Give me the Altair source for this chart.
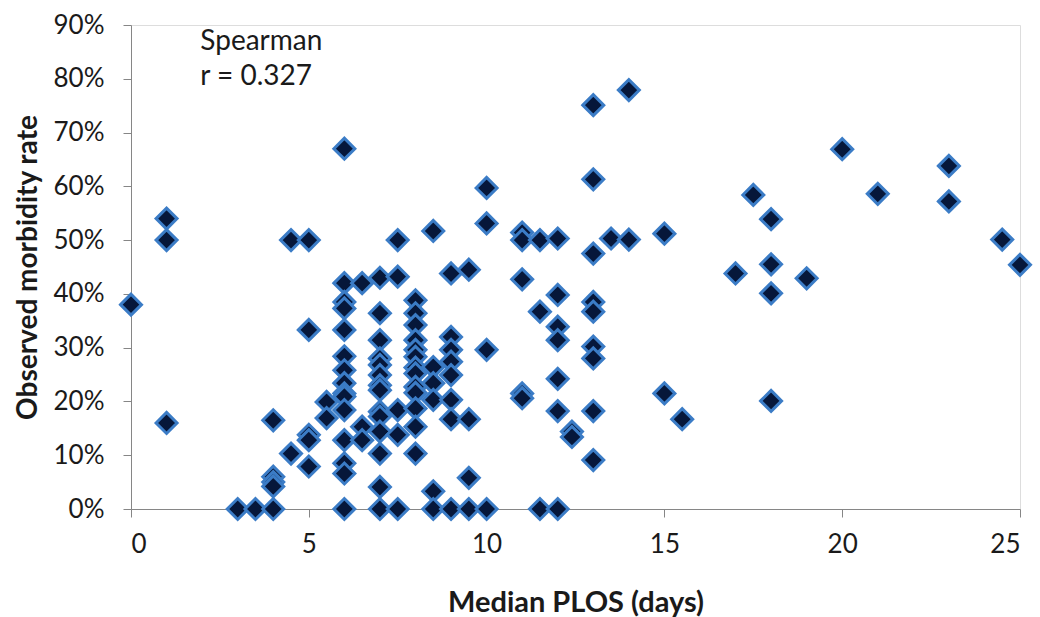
import altair as alt
import pandas as pd

# Median PLOS (days) and observed morbidity rate (fraction), grouped by day value
days = (
    [0] +
    [1, 1, 1] +
    [3] + [3.5] +
    [4, 4, 4, 4, 4] +
    [4.5, 4.5] +
    [5, 5, 5, 5, 5] +
    [5.5, 5.5] +
    [6] * 15 +
    [6.5] * 3 +
    [7] * 14 +
    [7.5] * 5 +
    [8] * 13 +
    [8.5] * 6 +
    [9] * 8 +
    [9.5] * 4 +
    [10] * 4 +
    [11] * 5 +
    [11.5] * 3 +
    [12] * 7 +
    [12.4] * 2 +
    [13] * 9 +
    [13.5] +
    [14, 14] +
    [15, 15] +
    [15.5] +
    [17] +
    [17.5] +
    [18] * 4 +
    [19] + [20] + [21] +
    [23, 23] +
    [24.5] + [25]
)

rates = (
    [0.38] +
    [0.54, 0.50, 0.16] +
    [0.0] + [0.0] +
    [0.165, 0.06, 0.05, 0.042, 0.0] +
    [0.50, 0.103] +
    [0.50, 0.333, 0.138, 0.128, 0.079] +
    [0.199, 0.169] +
    [0.67, 0.42, 0.385, 0.373, 0.333, 0.284, 0.258, 0.234, 0.215, 0.209, 0.184, 0.128, 0.085, 0.066, 0.0] +
    [0.42, 0.153, 0.128] +
    [0.43, 0.364, 0.314, 0.28, 0.268, 0.249, 0.23, 0.221, 0.181, 0.172, 0.144, 0.103, 0.041, 0.0] +
    [0.50, 0.432, 0.184, 0.138, 0.0] +
    [0.388, 0.364, 0.342, 0.314, 0.296, 0.283, 0.263, 0.252, 0.227, 0.216, 0.187, 0.153, 0.103] +
    [0.517, 0.264, 0.234, 0.203, 0.033, 0.0] +
    [0.438, 0.32, 0.296, 0.274, 0.249, 0.203, 0.167, 0.0] +
    [0.445, 0.167, 0.058, 0.0] +
    [0.597, 0.531, 0.296, 0.0] +
    [0.514, 0.50, 0.427, 0.215, 0.206] +
    [0.50, 0.367, 0.0] +
    [0.503, 0.398, 0.339, 0.314, 0.242, 0.182, 0.0] +
    [0.144, 0.134] +
    [0.751, 0.613, 0.475, 0.385, 0.367, 0.302, 0.28, 0.182, 0.091] +
    [0.503] +
    [0.779, 0.501] +
    [0.512, 0.215] +
    [0.167] +
    [0.438] +
    [0.584] +
    [0.539, 0.455, 0.401, 0.201] +
    [0.429] + [0.669] + [0.586] +
    [0.638, 0.572] +
    [0.501] + [0.454]
)

x_ticks = [0, 5, 10, 15, 20, 25]
y_ticks = [0, 0.1, 0.2, 0.3, 0.4, 0.5, 0.6, 0.7, 0.8, 0.9]

annotation_lines = ["Spearman", "r = 0.327"]
annotation_x = [1.95]
annotation_y = [0.895]

df = pd.DataFrame({"plos": days, "rate": rates})
ann = pd.DataFrame({"x": annotation_x, "y": annotation_y, "t": [annotation_lines]})

FONT = "Lato"
AXIS_COLOR = "#868686"
TEXT_COLOR = "#1a1a1a"

x_enc = alt.X(
    "plos:Q",
    scale=alt.Scale(domain=[0, 25], nice=False, zero=False),
    axis=alt.Axis(
        values=x_ticks, title="Median PLOS (days)", grid=False,
        domainColor=AXIS_COLOR, tickColor=AXIS_COLOR, tickSize=8,
        labelFontSize=26, labelFont=FONT, labelColor=TEXT_COLOR, labelPadding=14,
        titleFont=FONT, titleFontSize=29, titleFontWeight="bold", titleColor=TEXT_COLOR,
        titlePadding=31,
    ),
)
y_enc = alt.Y(
    "rate:Q",
    scale=alt.Scale(domain=[0, 0.9], nice=False),
    axis=alt.Axis(
        values=y_ticks, format=".0%", title="Observed morbidity rate", grid=False,
        domainColor=AXIS_COLOR, tickColor=AXIS_COLOR, tickSize=8,
        labelFontSize=26, labelFont=FONT, labelColor=TEXT_COLOR, labelPadding=19,
        titleFont=FONT, titleFontSize=28, titleFontWeight="bold", titleColor=TEXT_COLOR,
        titlePadding=11,
    ),
)

points = alt.Chart(df).mark_point(
    shape="diamond", size=440, filled=True, fill="#06173a", fillOpacity=1,
    stroke="#3b7cc6", strokeWidth=3, opacity=1,
).encode(x=x_enc, y=y_enc)

text = alt.Chart(ann).mark_text(
    align="left", baseline="top", fontSize=28, font=FONT, color=TEXT_COLOR, lineHeight=35,
).encode(
    x=alt.X("x:Q"), y=alt.Y("y:Q"), text="t"
)

chart = alt.layer(points, text).properties(
    width=889, height=484,
    autosize=alt.AutoSizeParams(type="none"),
    padding={"left": 131, "top": 25, "right": 20, "bottom": 108},
).configure_view(stroke=None).configure(background="white")

chart.save("out.html", embed_options={"renderer": "svg", "actions": False})
